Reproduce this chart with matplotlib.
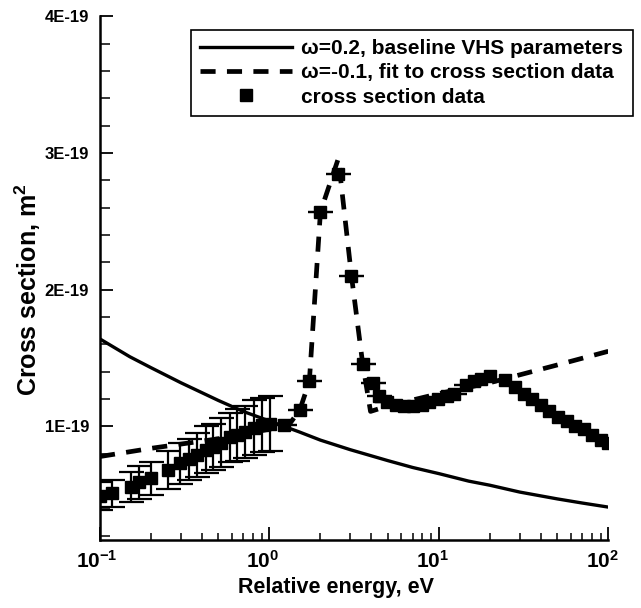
import numpy as np
import matplotlib
matplotlib.use("Agg")
import matplotlib.pyplot as plt
import matplotlib.transforms as mtransforms
from matplotlib.lines import Line2D
from matplotlib.ticker import FixedLocator, MultipleLocator, NullFormatter, LogLocator, FixedFormatter

plt.rcParams['font.family'] = ['Liberation Sans', 'DejaVu Sans']
plt.rcParams['font.weight'] = 'bold'
plt.rcParams['mathtext.fontset'] = 'custom'
plt.rcParams['mathtext.rm'] = 'Liberation Sans:bold'
plt.rcParams['mathtext.bf'] = 'Liberation Sans:bold'
plt.rcParams['mathtext.it'] = 'Liberation Sans:bold'

# cross section data (units of 1E-19 m^2), points with error bars
E_low = [0.100, 0.118, 0.152, 0.171, 0.201, 0.253, 0.298, 0.335, 0.376, 0.422,
         0.463, 0.520, 0.584, 0.641, 0.720, 0.809, 0.908, 1.01]
s_low = [0.49, 0.51, 0.56, 0.59, 0.62, 0.68, 0.73, 0.76, 0.79, 0.83,
         0.85, 0.88, 0.92, 0.94, 0.96, 0.99, 1.01, 1.02]
err_low = [0.10, 0.10, 0.11, 0.12, 0.12, 0.14, 0.15, 0.15, 0.16, 0.17,
           0.17, 0.18, 0.18, 0.19, 0.19, 0.20, 0.20, 0.20]

# resonance region (zero-size bars, only caps show)
E_mid = [1.22, 1.51, 1.72, 2.00, 2.55, 3.05, 3.55, 4.10, 4.45, 4.95, 5.56,
         6.24, 7.0, 7.9, 8.8, 9.9, 11.2, 12.3, 14.4, 16.2, 17.8]
s_mid = [1.01, 1.12, 1.33, 2.57, 2.85, 2.10, 1.46, 1.32, 1.22, 1.18, 1.16,
         1.15, 1.15, 1.16, 1.18, 1.20, 1.22, 1.24, 1.30, 1.33, 1.35]

# high energy points
E_high = [19.9, 24.5, 28.3, 31.7, 35.6, 40.0, 44.9, 50.4, 56.7, 63.7, 71.6, 80.4, 90.2, 99.0]
s_high = [1.37, 1.34, 1.29, 1.24, 1.20, 1.16, 1.11, 1.07, 1.04, 1.00, 0.98, 0.94, 0.90, 0.88]

# omega=0.2 baseline VHS curve
E_vhs = [0.1, 0.15, 0.2, 0.3, 0.5, 0.7, 1, 1.5, 2, 3, 5, 7, 10, 15, 20, 30, 50, 70, 100]
s_vhs = [1.64, 1.51, 1.43, 1.32, 1.19, 1.11, 1.04, 0.96, 0.90, 0.83, 0.75, 0.70,
         0.655, 0.60, 0.57, 0.52, 0.47, 0.44, 0.41]

# omega=-0.1 fit
E_fit = [0.1, 0.2, 0.5, 1.0, 1.3, 1.51, 1.72, 2.0, 2.55, 3.05, 3.55, 3.95, 5, 10, 20, 50, 100]
s_fit = [0.78, 0.84, 0.91, 0.98, 1.01, 1.12, 1.33, 2.57, 2.96, 2.10, 1.46, 1.11,
         1.15, 1.24, 1.32, 1.45, 1.55]

x_ticks = [0.1, 1, 10, 100]
x_ticklabels = [r'$10^{-1}$', r'$10^{0}$', r'$10^{1}$', r'$10^{2}$']
y_ticks = [1e-19, 2e-19, 3e-19, 4e-19]
y_ticklabels = ['1E-19', '2E-19', '3E-19', '4E-19']

scale = 1e-19

fig = plt.figure(figsize=(6.41, 6.08), dpi=100)
ax = fig.add_axes([0.156, 0.112, 0.793, 0.861])

ax.plot(E_vhs, np.array(s_vhs) * scale, color='black', lw=2.4, solid_capstyle='butt')
ax.plot(E_fit, np.array(s_fit) * scale, color='black', lw=3.4, dashes=(3.2, 2.4),
        dash_capstyle='butt')

ax.errorbar(E_low, np.array(s_low) * scale, yerr=np.array(err_low) * scale,
            fmt='s', color='black', ms=8.5, capsize=9, capthick=1.6, elinewidth=1.6)
ax.errorbar(E_mid, np.array(s_mid) * scale, yerr=np.zeros(len(E_mid)),
            fmt='s', color='black', ms=8.5, capsize=9, capthick=1.6, elinewidth=1.6)
ax.plot(E_high, np.array(s_high) * scale, 's', color='black', ms=8.5)

ax.set_xscale('log')
ax.set_xlim(0.1, 100)
ax.set_ylim(0.17e-19, 4e-19)

ax.xaxis.set_major_locator(FixedLocator(x_ticks))
ax.xaxis.set_major_formatter(NullFormatter())
ax.xaxis.set_minor_locator(LogLocator(base=10, subs=np.arange(2, 10)))
ax.xaxis.set_minor_formatter(NullFormatter())

ax.yaxis.set_major_locator(FixedLocator(y_ticks))
ax.yaxis.set_major_formatter(FixedFormatter(y_ticklabels))
ax.yaxis.set_minor_locator(MultipleLocator(0.2e-19))

for s in ['top', 'right']:
    ax.spines[s].set_visible(False)
for s in ['left', 'bottom']:
    ax.spines[s].set_linewidth(1.8)

ax.tick_params(axis='x', which='major', direction='in', length=9.4, width=1.3)
ax.tick_params(axis='x', which='minor', direction='in', length=5, width=1.1)
ax.tick_params(axis='y', which='major', direction='in', length=9.4, width=1.3, pad=8, labelsize=12)
ax.tick_params(axis='y', which='minor', direction='in', length=7, width=1.1)

# x tick labels, nudged slightly left as in the original
label_dx = [-3.5, -7, -6, -5.5]
xtrans = mtransforms.blended_transform_factory(ax.transData, ax.transAxes)
for xv, lab, dx in zip(x_ticks, x_ticklabels, label_dx):
    off = mtransforms.ScaledTranslation(dx / 100, -10 / 100, fig.dpi_scale_trans)
    ax.text(xv, 0, lab, transform=xtrans + off, ha='center', va='top', fontsize=15)

ax.set_xlabel('Relative energy, eV', fontsize=15.5, fontweight='bold')
ax.xaxis.set_label_coords(0.4646, -0.071)
ax.set_ylabel(r'Cross section, m$^{2}$', fontsize=18, fontweight='bold')
ax.yaxis.set_label_coords(-0.112, 0.478)

handles = [
    Line2D([], [], color='black', lw=2.4),
    Line2D([], [], color='black', lw=3.4, dashes=(3.2, 2.4), dash_capstyle='butt'),
    Line2D([], [], color='black', marker='s', ms=8.5, ls='none'),
]
labels = ['\u03c9=0.2, baseline VHS parameters',
          '\u03c9=-0.1, fit to cross section data',
          'cross section data']
leg = fig.legend(handles, labels, loc='upper right', bbox_to_anchor=(0.987, 0.951),
                 bbox_transform=fig.transFigure, borderaxespad=0, fancybox=False,
                 framealpha=1, edgecolor='black', handlelength=4.4, handletextpad=0.45,
                 labelspacing=0.25, borderpad=0.45, prop={'size': 15, 'weight': 'bold'})
leg.get_frame().set_linewidth(1.2)

fig.savefig('out.png', dpi=100)
